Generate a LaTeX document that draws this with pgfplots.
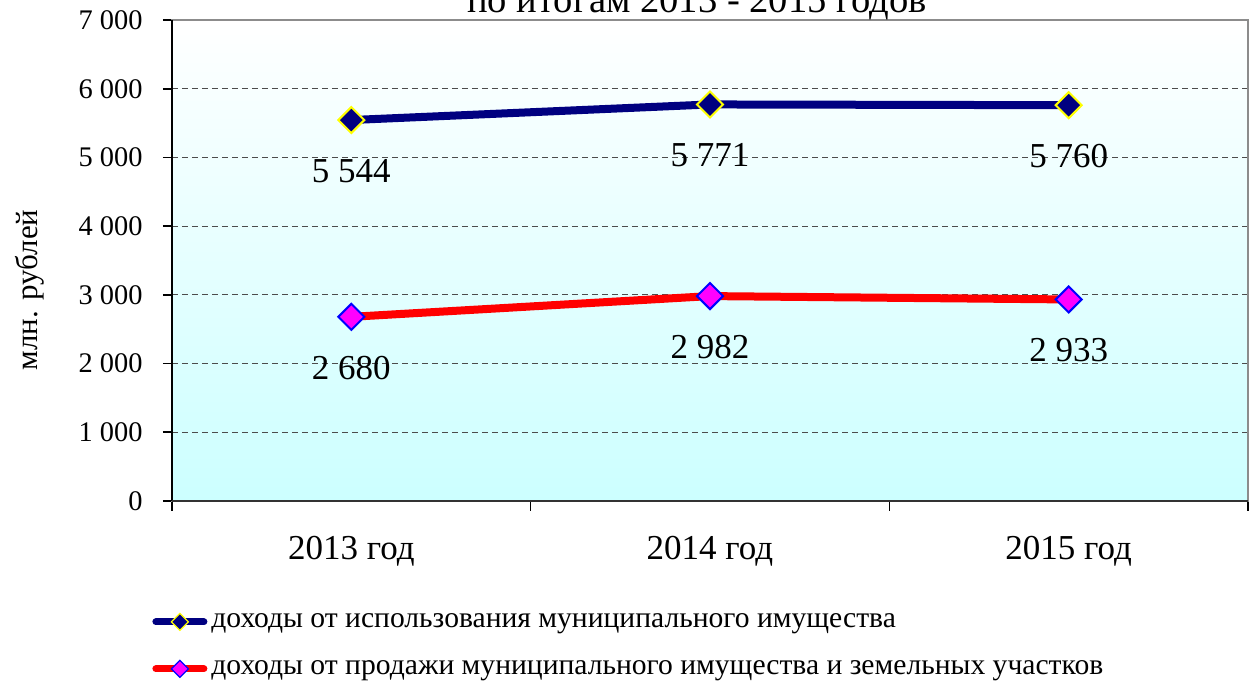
\documentclass[border=0pt]{standalone}
\usepackage{pgfplots}
\pgfplotsset{compat=1.18}
\usetikzlibrary{calc}
\usepackage{fontspec}
\setmainfont{Liberation Serif}
\definecolor{navyc}{RGB}{0,0,128}
\definecolor{magc}{RGB}{255,0,255}
\definecolor{yelc}{RGB}{255,255,0}
\definecolor{lcyan}{RGB}{204,255,255}
\begin{document}
\begin{tikzpicture}
\useasboundingbox (-86pt,-93.5pt) rectangle (538.5pt,250.5pt);
\begin{axis}[
  scale only axis, width=538pt, height=240.5pt,
  xmin=-0.5, xmax=2.5, ymin=0, ymax=7000,
  xtick={0,1,2}, xticklabels={2013 год,2014 год,2015 год},
  minor xtick={-0.5,0.5,1.5,2.5},
  major x tick style={draw=none},
  minor x tick style={black, line width=0.8pt},
  ytick={0,1000,...,7000},
  yticklabels={0,1 000,2 000,3 000,4 000,5 000,6 000,7 000},
  tick align=outside, tick pos=left,
  major tick length=4.5pt, minor tick length=5pt,
  y tick style={black, line width=0.8pt},
  ymajorgrids, grid style={densely dashed, black!70, line width=0.5pt},
  axis line style={draw=gray!90, line width=1pt},
  axis background/.style={top color=white, bottom color=lcyan},
  yticklabel style={font=\fontsize{14.2}{16}\selectfont, anchor=east, inner sep=0pt, xshift=-10pt},
  xticklabel style={font=\fontsize{17.5}{20}\selectfont, anchor=base, yshift=-25pt},
  nodes near coords, point meta=explicit symbolic,
  every node near coord/.append style={font=\fontsize{17.5}{20}\selectfont, anchor=center, yshift=-25.5pt, black},
  legend style={draw=none, fill=none, at={(rel axis cs:0,0)}, anchor=north west, xshift=-10pt, yshift=-54pt,
    font=\fontsize{14.8}{18}\selectfont, row sep=11pt, inner sep=0pt, legend cell align=left},
  legend image code/.code={\draw[#1, mark size=3pt, line width=3.5pt, line cap=round, mark repeat=2, mark phase=2, every mark/.append style={line width=0.6pt}] plot coordinates {(0pt,0pt) (12pt,0pt) (24pt,0pt)};},
  clip=false,
]
\addplot[navyc, line width=4pt, mark=square*, mark size=4.6pt,
  mark options={rotate=45, fill=navyc, draw=yelc, line width=1pt}]
  coordinates {(0,5544) [5 544] (1,5771) [5 771] (2,5760) [5 760]};
\addlegendentry{доходы от использования муниципального имущества}
\addplot[red, line width=4pt, mark=square*, mark size=4.6pt,
  mark options={rotate=45, fill=magc, draw=blue, line width=1pt}]
  coordinates {(0,2680) [2 680] (1,2982) [2 982] (2,2933) [2 933]};
\addlegendentry{доходы от продажи муниципального имущества и земельных участков}
\draw[black, line width=1pt] (rel axis cs:0,0) -- (rel axis cs:0,1);
\draw[black!80, line width=1pt] (rel axis cs:0,0) -- (rel axis cs:1,0);
\node[font=\fontsize{15.5}{18}\selectfont, rotate=90] at ($(rel axis cs:0,0)+(-71pt,105.5pt)$) {млн. рублей};
\node[font=\fontsize{19.3}{22}\selectfont, anchor=base] at ($(rel axis cs:0,0)+(262.5pt,244pt)$) {по итогам 2013 - 2015 годов};
\end{axis}
\end{tikzpicture}
\end{document}
